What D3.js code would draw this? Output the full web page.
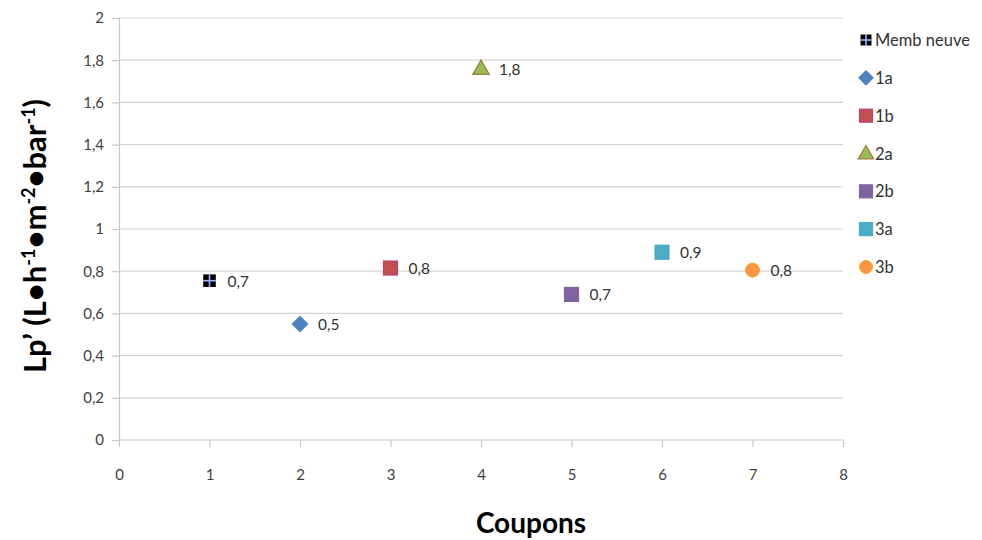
<!DOCTYPE html>
<html><head><meta charset="utf-8">
<script src="https://cdn.jsdelivr.net/npm/d3@7"></script>
<style>body{margin:0;background:#fff}svg{display:block}</style>
</head><body>
<svg id="c" width="982" height="540"></svg>
<script>
const series = ["Memb neuve","1a","1b","2a","2b","3a","3b"];
const xValues = [1,2,3,4,5,6,7];
const yValues = [0.755,0.55,0.815,1.76,0.69,0.89,0.805];
const pointLabels = ["0,7","0,5","0,8","1,8","0,7","0,9","0,8"];
const colors = ["#000000","#4F81BD","#C0504D","#9BBB59","#8064A2","#4BACC6","#F79646"];
const strokes = ["#000000","#4F81BD","#B9417A","#A08040","#8064A2","#4BACC6","#F5A623"];
const shapes = ["cross","diamond","square","triangle","square","square","circle"];
const yTicks = [0,0.2,0.4,0.6,0.8,1,1.2,1.4,1.6,1.8,2];
const xTicks = [0,1,2,3,4,5,6,7,8];

const svg = d3.select("#c");
const L=119,R=843,T=18,B=440;
const x = d3.scaleLinear().domain([0,8]).range([L,R]);
const y = d3.scaleLinear().domain([0,2]).range([B,T]);
const fmt = v => String(v).replace(".", ",");
const font = "Lato, 'Open Sans', sans-serif";

// gridlines
svg.append("g").selectAll("line").data(yTicks.filter(d=>d>0)).join("line")
  .attr("x1",L).attr("x2",R).attr("y1",d=>y(d)).attr("y2",d=>y(d))
  .attr("stroke","#d4d4d4").attr("stroke-width",1.2);

const ya = svg.append("g").attr("transform",`translate(${L},0)`)
  .call(d3.axisLeft(y).tickValues(yTicks).tickFormat(fmt).tickSize(7).tickPadding(8));
const xa = svg.append("g").attr("transform",`translate(0,${B})`)
  .call(d3.axisBottom(x).tickValues(xTicks).tickFormat(fmt).tickSize(7).tickPadding(22));
[ya,xa].forEach(a=>{
  a.select(".domain").attr("stroke","#c8c8c8").attr("stroke-width",1.2);
  a.selectAll(".tick line").attr("stroke","#c8c8c8").attr("stroke-width",1.2);
  a.selectAll("text").attr("font-family",font).attr("font-size",15).attr("fill","#404040");
});
xa.select(".domain").attr("d",`M${L},0H${R}`);

function marker(g, shape, fill, stroke, s){
  if(shape==="diamond"){
    g.append("path").attr("d",d3.symbol(d3.symbolDiamond2, s*s*0.95)()).attr("fill",fill);
  } else if(shape==="triangle"){
    g.append("path").attr("d",d3.symbol(d3.symbolTriangle, s*s*0.6)()).attr("transform","translate(0,1)")
      .attr("fill",fill).attr("stroke",stroke).attr("stroke-width",1.3);
  } else if(shape==="circle"){
    g.append("circle").attr("r",s/2).attr("fill",fill).attr("stroke",stroke).attr("stroke-width",1);
  } else if(shape==="cross"){
    const h=s*0.42;
    g.append("rect").attr("x",-h).attr("y",-h).attr("width",2*h).attr("height",2*h).attr("fill","#000");
    g.append("line").attr("x1",-h).attr("x2",h).attr("y1",0).attr("y2",0).attr("stroke","#9fb4ff").attr("stroke-width",1.6);
    g.append("line").attr("y1",-h).attr("y2",h).attr("x1",0).attr("x2",0).attr("stroke","#9fb4ff").attr("stroke-width",1.6);
  } else {
    const h=s/2;
    g.append("rect").attr("x",-h).attr("y",-h).attr("width",2*h).attr("height",2*h)
      .attr("fill",fill).attr("stroke",stroke).attr("stroke-width",1.2);
  }
}

// points
series.forEach((s,i)=>{
  const g = svg.append("g").attr("transform",`translate(${x(xValues[i])},${y(yValues[i])})`);
  marker(g, shapes[i], colors[i], strokes[i], shapes[i]==="cross"?15:14);
  svg.append("text").attr("x",x(xValues[i])+18).attr("y",y(yValues[i])+6)
    .attr("font-family",font).attr("font-size",15.5).attr("fill","#333").text(pointLabels[i]);
});

// legend
const legY = d3.scaleLinear().domain([0,6]).range([40,267]);
series.forEach((s,i)=>{
  const g = svg.append("g").attr("transform",`translate(866,${legY(i)})`);
  marker(g, shapes[i], colors[i], strokes[i], 13);
  svg.append("text").attr("x",875).attr("y",legY(i)+6)
    .attr("font-family",font).attr("font-size",16.5).attr("fill","#333").text(s);
});

// axis titles
svg.append("text").attr("x",531).attr("y",533).attr("text-anchor","middle")
  .attr("font-family",font).attr("font-weight","bold").attr("font-size",28).attr("fill","#000").text("Coupons");

const yt = svg.append("text").attr("transform","translate(46,236) rotate(-90)").attr("text-anchor","middle")
  .attr("font-family",font).attr("font-weight","bold").attr("font-size",31).attr("fill","#000");
yt.append("tspan").text("Lp’ (L•h");
yt.append("tspan").attr("font-size",18).attr("dy",-11).text("-1");
yt.append("tspan").attr("dy",11).text("•m");
yt.append("tspan").attr("font-size",18).attr("dy",-11).text("-2");
yt.append("tspan").attr("dy",11).text("•bar");
yt.append("tspan").attr("font-size",18).attr("dy",-11).text("-1");
yt.append("tspan").attr("dy",11).text(")");
</script>
</body></html>
